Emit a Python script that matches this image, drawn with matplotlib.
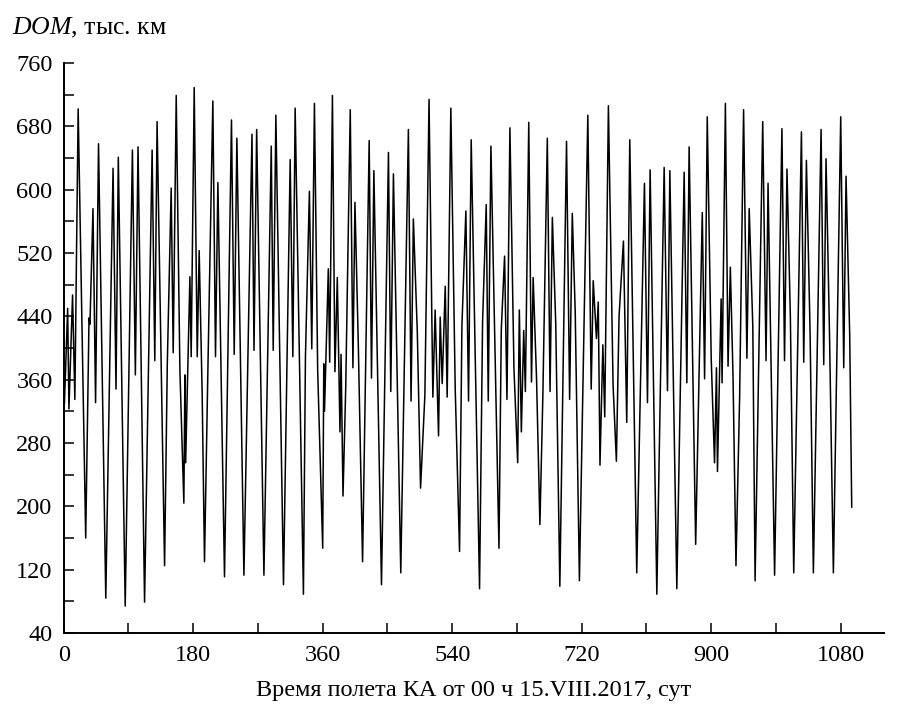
import matplotlib
matplotlib.use("Agg")
import matplotlib.pyplot as plt
from matplotlib.ticker import MultipleLocator

plt.rcParams['font.family'] = ['Liberation Serif', 'DejaVu Serif']
plt.rcParams['mathtext.fontset'] = 'custom'
plt.rcParams['mathtext.rm'] = 'Liberation Serif'
plt.rcParams['mathtext.it'] = 'Liberation Serif:italic'

# flight time, days
days = [1.0, 5.5, 7.3, 12.3, 15.5, 20.1, 30.6, 35.2, 36.5, 40.7, 44.3, 48.4, 58.5, 68.6, 72.7, 75.9,
        85.5, 95.5, 99.6, 103.3, 112.4, 122.9, 126.6, 129.8, 140.2, 144.0, 149.4, 152.2, 156.4,
        161.5, 167.0, 168.5, 169.5, 175.4, 177.2, 181.4, 185.6, 188.3, 192.5, 195.7, 200.0, 207.3,
        211.0, 214.3, 223.5, 233.2, 237.0, 240.7, 250.5, 261.7, 264.5, 268.2, 278.3, 288.5, 291.2,
        294.9, 305.5, 314.8, 318.5, 321.7, 333.2, 336.0, 341.5, 344.8, 348.5, 353.0, 360.0, 361.5,
        362.5, 367.8, 369.7, 373.5, 377.0, 380.3, 384.0, 385.5, 388.2, 392.0, 398.3, 402.0, 404.8,
        409.5, 415.4, 424.6, 427.8, 431.1, 441.7, 451.4, 454.6, 458.3, 468.5, 479.1, 482.8, 486.0,
        491.5, 496.0, 502.0, 507.8, 513.1, 516.3, 521.0, 523.3, 526.1, 530.3, 533.0, 538.1, 544.2,
        550.2, 553.5, 559.0, 562.7, 566.4, 578.0, 582.2, 587.3, 590.1, 593.8, 605.0, 608.2, 612.8,
        616.1, 620.2, 625.8, 631.0, 633.3, 636.1, 639.4, 641.7, 646.4, 650.2, 652.5, 657.2, 661.9,
        666.0, 672.2, 676.0, 679.2, 683.9, 689.6, 698.9, 703.2, 706.9, 711.0, 716.8, 728.5, 733.2,
        736.0, 740.5, 743.0, 745.4, 749.4, 752.0, 757.1, 763.6, 768.2, 771.9, 778.0, 782.6, 786.8,
        796.5, 807.2, 811.4, 815.1, 824.4, 834.6, 839.2, 842.5, 852.2, 862.4, 866.1, 869.3, 878.4,
        883.0, 887.6, 890.8, 894.5, 900.0, 904.6, 907.3, 908.7, 913.8, 915.1, 919.7, 923.4, 926.6,
        930.3, 934.4, 939.5, 945.0, 949.6, 952.8, 957.8, 961.0, 971.6, 976.2, 979.0, 988.1, 998.3,
        1001.9, 1005.3, 1010.0, 1014.7, 1025.4, 1028.6, 1032.3, 1037.5, 1042.0, 1052.7, 1056.4,
        1059.6, 1064.5, 1069.8, 1080.0, 1084.2, 1087.4, 1092.5, 1095.3]

# DOM, thousand km
dom = [330, 450, 323, 467, 335, 702, 160, 438, 430, 576, 331, 658, 84, 627, 348, 641,
       74, 650, 366, 654, 79, 650, 384, 686, 125, 380, 602, 394, 719,
       372, 204, 366, 255, 490, 389, 729, 389, 523, 340, 130, 352, 712,
       389, 609, 111, 688, 392, 665, 113, 670, 397, 676, 113, 655, 397,
       694, 101, 638, 389, 703, 89, 389, 598, 399, 709, 372, 147, 380,
       320, 500, 382, 719, 370, 489, 294, 392, 213, 350, 701, 375, 584,
       404, 130, 662, 362, 624, 101, 647, 345, 620, 116, 676, 333, 563,
       420, 223, 340, 714, 338, 448, 289, 439, 355, 478, 338, 703, 348,
       143, 428, 573, 333, 663, 96, 433, 581, 333, 655, 147, 423, 516,
       335, 678, 375, 255, 448, 294, 422, 345, 685, 357, 489, 362, 177,
       340, 665, 345, 565, 431, 99, 661, 335, 570, 445, 106, 694, 348,
       485, 412, 458, 252, 404, 313, 706, 353, 257, 440, 535, 306, 663,
       116, 608, 331, 625, 89, 628, 346, 624, 96, 622, 356, 654, 152,
       365, 571, 361, 692, 387, 255, 375, 244, 462, 356, 709, 377, 502,
       365, 125, 338, 701, 387, 576, 428, 106, 686, 384, 608, 113, 677,
       384, 626, 440, 116, 673, 382, 637, 416, 116, 676, 379,
       639, 414, 116, 692, 375, 617, 416, 199]

x_major = [0, 180, 360, 540, 720, 900, 1080]
y_major = [40, 120, 200, 280, 360, 440, 520, 600, 680, 760]

fig = plt.figure(figsize=(9.01, 7.06), dpi=100)
ax = fig.add_axes([0.0707, 0.1034, 0.9103, 0.8074])
ax.plot(days, dom, color='black', lw=1.1)

ax.set_xlim(0, 1140)
ax.set_ylim(40, 760)
ax.set_xticks(x_major)
ax.set_yticks(y_major)
ax.xaxis.set_minor_locator(MultipleLocator(90))
ax.yaxis.set_minor_locator(MultipleLocator(40))
ax.tick_params(which='both', direction='in', length=7, width=1.1, labelsize=17.5, colors='black')
ax.tick_params(axis='x', pad=9)
ax.tick_params(axis='y', pad=8)
for s in ['top', 'right']:
    ax.spines[s].set_visible(False)
for s in ['left', 'bottom']:
    ax.spines[s].set_linewidth(1.4)

ax.set_xlabel('Время полета КА от 00 ч 15.VIII.2017, сут', fontsize=17.5, labelpad=10)
fig.text(12/901, 1 - 28/706, r'$\mathit{DOM}$, тыс. км', fontsize=18.5, ha='left', va='center')

fig.savefig('out.png', dpi=100)
